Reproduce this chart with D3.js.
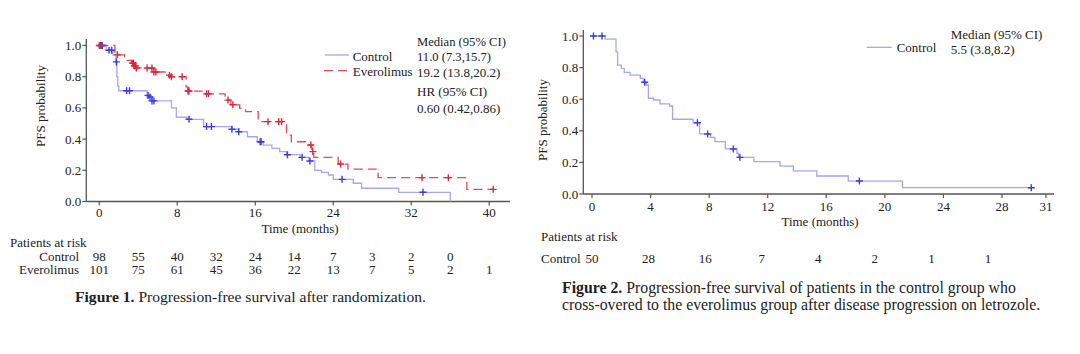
<!DOCTYPE html>
<html><head><meta charset="utf-8">
<script src="https://cdn.jsdelivr.net/npm/d3@7"></script>
<style>
body{margin:0;background:#fff;}
svg text{font-family:"Liberation Serif","Times New Roman",serif;fill:#222;}
</style></head><body>
<svg id="c" width="1080" height="354"></svg>
<script>
// ---------- DATA ----------
// Figure 1, control arm: step times (months) and PFS probability
const f1CtrlTime = [0,0.7,1.4,1.7,1.8,1.9,2.0,4.9,5.1,5.4,7.4,7.9,9.0,10.7,13.6,14.3,15.2,16.2,16.8,17.7,18.5,19.2,20.6,21.5,22.1,22.8,23.5,24.0,26.05,26.9,30.7];
const f1CtrlSurv = [1.0,0.97,0.94,0.895,0.80,0.74,0.71,0.68,0.67,0.645,0.60,0.54,0.527,0.48,0.463,0.447,0.415,0.383,0.362,0.34,0.32,0.30,0.283,0.26,0.20,0.187,0.17,0.142,0.117,0.085,0.059];
const f1CtrlEnd = 36.0;
const f1CtrlCensor = [0.1,0.3,1.0,1.27,1.75,2.8,3.1,5.0,5.2,5.4,5.6,9.2,11.0,11.5,13.6,14.3,16.5,16.6,19.3,20.8,21.6,24.9,33.2];
// Figure 1, everolimus arm
const f1EveTime = [0,1.6,2.6,3.3,3.6,3.8,5.6,7.1,7.3,8.9,9.1,10.8,12.9,13.5,14.4,15.0,16.3,19.2,19.7,21.4,21.8,22.0,24.5,25.5,28.6,37.7];
const f1EveSurv = [1.0,0.94,0.905,0.887,0.87,0.856,0.83,0.81,0.80,0.735,0.708,0.69,0.65,0.62,0.597,0.576,0.512,0.426,0.383,0.362,0.32,0.283,0.24,0.208,0.153,0.078];
const f1EveEnd = 40.4;
const f1EveCensor = [0.0,0.2,1.85,3.4,3.5,3.6,3.7,3.8,4.9,5.4,5.6,5.8,7.2,7.4,8.5,9.1,9.2,11.0,11.2,13.2,13.7,17.3,18.4,18.7,21.7,21.9,24.75,33.1,35.8,40.4];
// Figure 2, control cross-over group
const f2Time = [0,0.9,1.64,1.75,2.0,2.2,2.6,3.3,3.5,3.7,3.85,4.2,4.64,5.3,5.5,6.9,7.35,8.1,8.4,9.1,9.9,10.0,11.06,12.84,13.75,15.35,17.5,21.2];
const f2Surv = [1.0,0.98,0.90,0.816,0.795,0.77,0.753,0.732,0.707,0.69,0.606,0.595,0.57,0.557,0.473,0.451,0.38,0.359,0.331,0.285,0.258,0.232,0.205,0.177,0.146,0.114,0.082,0.04];
const f2End = 30.0;
const f2Censor = [0.1,0.68,3.6,7.2,7.9,9.65,10.1,18.26,30.0];

// Ticks
const f1XTicks = [0,8,16,24,32,40];
const f2XTicks = [0,4,8,12,16,20,24,28,31];
const yTicks = [0,0.2,0.4,0.6,0.8,1.0];

// Risk tables
const f1RiskTimes = [0,4,8,12,16,20,24,28,32,36,40];
const f1RiskCtrl = [98,55,40,32,24,14,7,3,2,0];
const f1RiskEve = [101,75,61,45,36,22,13,7,5,2,1];
const f2RiskTimes = [0,4,8,12,16,20,24,28];
const f2RiskCtrl = [50,28,16,7,4,2,1,1];

// Legend text
const f1Legend = ["Control","Everolimus"];
const f1Median = ["11.0 (7.3,15.7)","19.2 (13.8,20.2)"];
const f1HR = "0.60 (0.42,0.86)";
const f2Median = ["5.5 (3.8,8.2)"];

// ---------- DRAW ----------
const svg = d3.select("#c");
const ctrlLine = "#a6a6f2", ctrlMark = "#3b3be0";
const eveLine = "#e44a5a", eveMark = "#d8283c";
const axisCol = "#555";

function stepVal(times, surv, t){
  let v = surv[0];
  for(let i=0;i<times.length;i++){ if(times[i] <= t) v = surv[i]; }
  return v;
}

function drawAxes(g, x, y, xTicks, xLeft, xRight, yTop, labelY, fs){
  g.append("line").attr("x1",xLeft).attr("x2",xLeft).attr("y1",y(0)).attr("y2",yTop)
    .attr("stroke",axisCol).attr("stroke-width",1.3);
  yTicks.forEach(v=>{
    g.append("line").attr("x1",xLeft-4).attr("x2",xLeft).attr("y1",y(v)).attr("y2",y(v))
      .attr("stroke",axisCol).attr("stroke-width",1.2);
    g.append("text").attr("x",xLeft-5).attr("y",y(v)+4.5).attr("text-anchor","end")
      .attr("font-size",fs).text(d3.format(".1f")(v));
  });
  g.append("line").attr("x1",xLeft).attr("x2",xRight).attr("y1",y(0)).attr("y2",y(0))
    .attr("stroke",axisCol).attr("stroke-width",1.3);
  xTicks.forEach(v=>{
    g.append("line").attr("x1",x(v)).attr("x2",x(v)).attr("y1",y(0)).attr("y2",y(0)+4)
      .attr("stroke",axisCol).attr("stroke-width",1.2);
    g.append("text").attr("x",x(v)).attr("y",labelY).attr("text-anchor","middle")
      .attr("font-size",fs).text(v);
  });
}

function drawCurve(g, x, y, times, surv, end, dropToZero, color, dash){
  const pts = times.map((t,i)=>[t,surv[i]]);
  pts.push([end, surv[surv.length-1]]);
  if(dropToZero) pts.push([end, 0]);
  const line = d3.line().x(d=>x(d[0])).y(d=>y(d[1])).curve(d3.curveStepAfter);
  g.append("path").attr("d",line(pts)).attr("fill","none").attr("stroke",color)
    .attr("stroke-width",1.3).attr("stroke-dasharray",dash||null);
}

function drawCensor(g, x, y, times, surv, censor, color){
  censor.forEach(t=>{
    const cx = x(t), cy = y(stepVal(times,surv,t));
    g.append("path").attr("d",`M${cx-3.5},${cy}H${cx+3.5}M${cx},${cy-3.5}V${cy+3.5}`)
      .attr("stroke",color).attr("stroke-width",1.4);
  });
}

// ===== Figure 1 =====
const g1 = svg.append("g");
const x1 = d3.scaleLinear().domain([0,40]).range([99.3,489.3]);
const y1 = d3.scaleLinear().domain([0,1]).range([201.5,45.5]);
drawAxes(g1, x1, y1, f1XTicks, 86.3, 510, 39, 216.5, 13);
g1.append("text").attr("transform","translate(45,106) rotate(-90)").attr("text-anchor","middle")
  .attr("font-size",13).text("PFS probability");
g1.append("text").attr("x",300).attr("y",232.5).attr("text-anchor","middle").attr("font-size",13).text("Time (months)");

drawCurve(g1,x1,y1,f1CtrlTime,f1CtrlSurv,f1CtrlEnd,true,ctrlLine,null);
drawCurve(g1,x1,y1,f1EveTime,f1EveSurv,f1EveEnd,false,eveLine,"9,5");
drawCensor(g1,x1,y1,f1CtrlTime,f1CtrlSurv,f1CtrlCensor,ctrlMark);
drawCensor(g1,x1,y1,f1EveTime,f1EveSurv,f1EveCensor,eveMark);

// legend fig 1
g1.append("line").attr("x1",325).attr("x2",349).attr("y1",55).attr("y2",55).attr("stroke",ctrlLine).attr("stroke-width",1.3);
g1.append("line").attr("x1",324).attr("x2",350).attr("y1",70.7).attr("y2",70.7).attr("stroke",eveLine).attr("stroke-width",1.3).attr("stroke-dasharray","9,5");
g1.append("text").attr("x",352.7).attr("y",60.5).attr("font-size",13).text(f1Legend[0]);
g1.append("text").attr("x",352.7).attr("y",75.5).attr("font-size",13).text(f1Legend[1]);
g1.append("text").attr("x",417).attr("y",46).attr("font-size",12.6).text("Median (95% CI)");
g1.append("text").attr("x",417).attr("y",60.5).attr("font-size",12.6).text(f1Median[0]);
g1.append("text").attr("x",417).attr("y",77).attr("font-size",13).text(f1Median[1]);
g1.append("text").attr("x",417).attr("y",95.5).attr("font-size",13).text("HR (95% CI)");
g1.append("text").attr("x",417).attr("y",113).attr("font-size",13).text(f1HR);

// risk table fig 1
g1.append("text").attr("x",10).attr("y",247).attr("font-size",13).text("Patients at risk");
g1.append("text").attr("x",79).attr("y",261).attr("text-anchor","end").attr("font-size",13).text("Control");
g1.append("text").attr("x",79).attr("y",274).attr("text-anchor","end").attr("font-size",13).text("Everolimus");
f1RiskCtrl.forEach((v,i)=>g1.append("text").attr("x",x1(f1RiskTimes[i])).attr("y",261).attr("text-anchor","middle").attr("font-size",13).text(v));
f1RiskEve.forEach((v,i)=>g1.append("text").attr("x",x1(f1RiskTimes[i])).attr("y",274).attr("text-anchor","middle").attr("font-size",13).text(v));

// caption fig 1
const cap1 = g1.append("text").attr("x",75).attr("y",302).attr("font-size",15.6);
cap1.append("tspan").attr("font-weight","bold").text("Figure 1.");
cap1.append("tspan").text(" Progression-free survival after randomization.");

// ===== Figure 2 =====
const g2 = svg.append("g");
const x2 = d3.scaleLinear().domain([0,28]).range([592,1002]);
const y2 = d3.scaleLinear().domain([0,1]).range([194,36]);
drawAxes(g2, x2, y2, f2XTicks, 583.3, 1054, 30, 211, 13);
g2.append("text").attr("transform","translate(547,120) rotate(-90)").attr("text-anchor","middle")
  .attr("font-size",13).text("PFS probability");
g2.append("text").attr("x",820).attr("y",226).attr("text-anchor","middle").attr("font-size",13).text("Time (months)");

drawCurve(g2,x2,y2,f2Time,f2Surv,f2End,false,ctrlLine,null);
drawCensor(g2,x2,y2,f2Time,f2Surv,f2Censor,ctrlMark);

// legend fig 2
g2.append("line").attr("x1",866.7).attr("x2",891.7).attr("y1",47.3).attr("y2",47.3).attr("stroke",ctrlLine).attr("stroke-width",1.3);
g2.append("text").attr("x",896.7).attr("y",52).attr("font-size",13).text("Control");
g2.append("text").attr("x",950.7).attr("y",38.5).attr("font-size",13).text("Median (95% CI)");
g2.append("text").attr("x",950.7).attr("y",53.5).attr("font-size",13).text(f2Median[0]);

// risk table fig 2
const xr2 = d3.scaleLinear().domain([0,28]).range([592,988]);
g2.append("text").attr("x",541).attr("y",241).attr("font-size",13).text("Patients at risk");
g2.append("text").attr("x",541).attr("y",262.5).attr("font-size",13).text("Control");
f2RiskCtrl.forEach((v,i)=>g2.append("text").attr("x",xr2(f2RiskTimes[i])).attr("y",262.5).attr("text-anchor","middle").attr("font-size",13).text(v));

// caption fig 2
const cap2 = g2.append("text").attr("x",562).attr("y",293).attr("font-size",15.8);
cap2.append("tspan").attr("font-weight","bold").text("Figure 2.");
cap2.append("tspan").text(" Progression-free survival of patients in the control group who");
g2.append("text").attr("x",562).attr("y",309.5).attr("font-size",15.8).text("cross-overed to the everolimus group after disease progression on letrozole.");
</script>
</body></html>
